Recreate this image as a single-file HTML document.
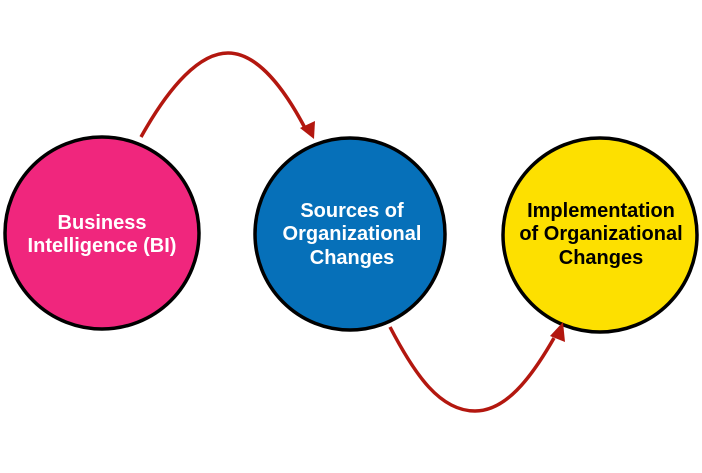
<!DOCTYPE html>
<html><head><style>
html,body{margin:0;padding:0;background:#fff;}
body{width:702px;height:468px;overflow:hidden;}
svg text{font-family:"Liberation Sans",Arial,sans-serif;font-weight:bold;font-size:20px;text-anchor:middle;}
</style></head><body>
<svg width="702" height="468" viewBox="0 0 702 468" xmlns="http://www.w3.org/2000/svg">
<ellipse cx="102" cy="233" rx="97" ry="96" fill="#f0267d" stroke="#000" stroke-width="3.5"/>
<ellipse cx="350" cy="234" rx="95" ry="96" fill="#0670b9" stroke="#000" stroke-width="3.5"/>
<ellipse cx="600" cy="235" rx="97" ry="97" fill="#fde000" stroke="#000" stroke-width="3.5"/>
<path d="M141 137 C170 85 200 53 228 53 C258 53 285 90 305 128" fill="none" stroke="#b3170f" stroke-width="3.5"/>
<polygon points="300,128 315,121 314,139" fill="#b3170f"/>
<path d="M390 327 C415 375 440 411 475 411 C505 411 530 380 554 338" fill="none" stroke="#b3170f" stroke-width="3.5"/>
<polygon points="550,336 563,322 565,342" fill="#b3170f"/>
<g fill="#fff">
<text x="102" y="229">Business</text>
<text x="102" y="252">Intelligence (BI)</text>
<text x="352" y="217">Sources of</text>
<text x="352" y="240">Organizational</text>
<text x="352" y="264">Changes</text>
</g>
<g fill="#000">
<text x="601" y="217">Implementation</text>
<text x="601" y="240">of Organizational</text>
<text x="601" y="264">Changes</text>
</g>
</svg>
</body></html>
